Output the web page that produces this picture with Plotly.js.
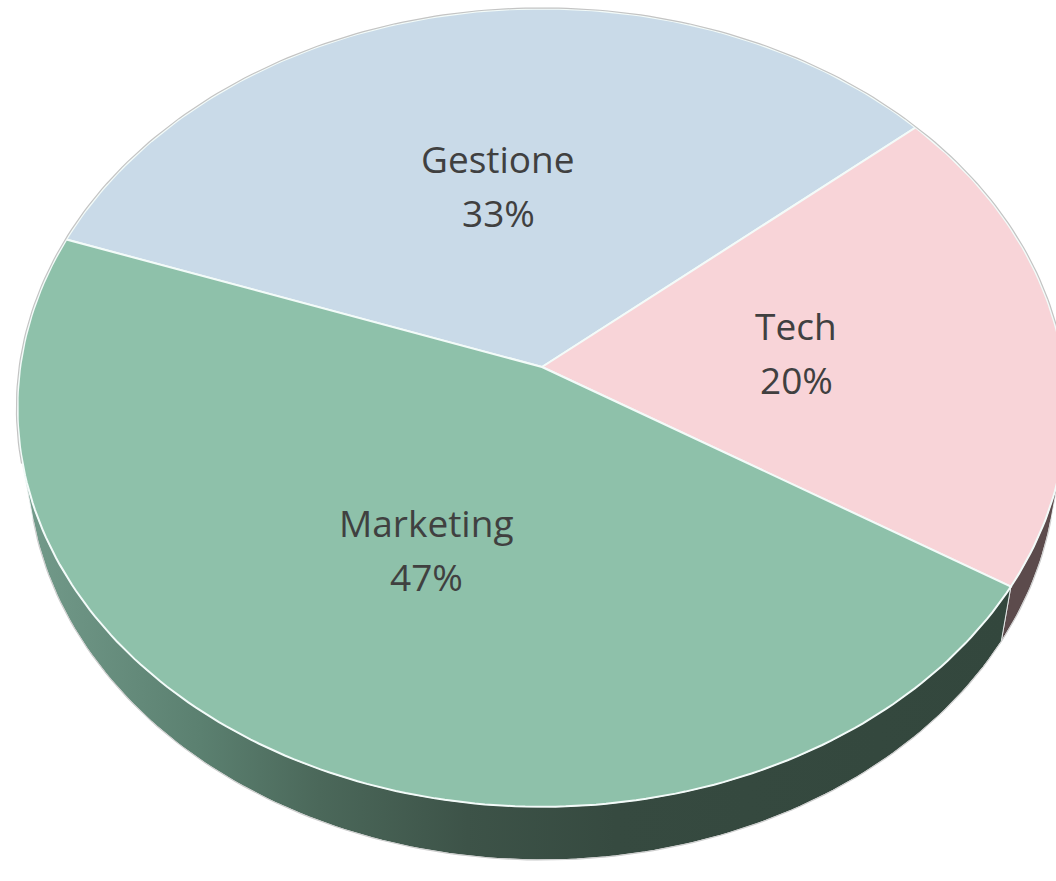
<!DOCTYPE html>
<html>
<head>
<meta charset="utf-8">
<script src="https://cdn.plot.ly/plotly-3.0.1.min.js"></script>
<style>html,body{margin:0;padding:0;background:#fff;}#chart{width:1056px;height:881px;}</style>
</head>
<body>
<div id="chart"></div>
<script>
// ---- data ----
const categories = ['Gestione', 'Tech', 'Marketing'];
const values = [33.4, 20, 46.6];
const topColors = ['#c9dae8', '#f8d4d8', '#8ec1aa'];
const sideColors = ['#6d8597', '#5c4b4c', '#3a4f45'];
const startAngle = 160.5; // degrees, slices run clockwise

// ---- 3D perspective projection of the pie disc ----
const U0 = 542, V0 = 367, F = 3350, D = 6.42;
const ALPHA = 49.2 * Math.PI / 180;
const S = Math.sin(ALPHA), C = Math.cos(ALPHA);
const H = 0.169; // thickness
function proj(thetaDeg, r, z) {
  const t = thetaDeg * Math.PI / 180;
  const X = r * Math.cos(t), Y = r * Math.sin(t);
  const up = Y * S + z * C;
  const depth = D + Y * C - z * S;
  return [U0 + F * X / depth, V0 - F * up / depth];
}
function arc(a1, a2, r, z) {
  const pts = [];
  const steps = Math.max(2, Math.ceil(Math.abs(a2 - a1) / 1.0));
  for (let i = 0; i <= steps; i++) pts.push(proj(a1 + (a2 - a1) * i / steps, r, z));
  return pts;
}
// front-facing wall range
const lim = Math.asin(-1 / (D * C)) * 180 / Math.PI; // ~ -13.8
const frontLo = -180 - lim, frontHi = lim;

const total = values.reduce((a, b) => a + b, 0);
const slices = [];
let a = startAngle;
values.forEach((v, i) => {
  const sweep = v / total * 360;
  slices.push({ i, a1: a, a2: a - sweep, mid: a - sweep / 2 });
  a -= sweep;
});

const traces = [];
// walls
slices.forEach(s => {
  for (const shift of [-360, 0, 360]) {
    const hi = s.a1 + shift, lo = s.a2 + shift;
    const h2 = Math.min(hi, frontHi), l2 = Math.max(lo, frontLo);
    if (h2 > l2) {
      const topPts = arc(h2, l2, 1, 0);
      const botPts = arc(l2, h2, 1, -H);
      const pts = topPts.concat(botPts);
      pts.push(topPts[0]);
      const tr = {
        type: 'scatter', mode: 'lines', fill: 'toself',
        x: pts.map(p => p[0]), y: pts.map(p => p[1]),
        line: { color: 'rgba(235,240,240,0.9)', width: 1 },
        fillcolor: sideColors[s.i], hoverinfo: 'skip', showlegend: false
      };
      if (s.i === 2) {
        tr.fillgradient = {
          type: 'horizontal',
          colorscale: [[0, '#739b8b'], [0.18, '#5b8070'], [0.3, '#4b685a'], [0.45, '#3d5348'], [0.6, '#364a40'], [1, '#33473d']]
        };
      }
      traces.push(tr);
    }
  }
});
// bottom outline (light gray)
{
  const pts = arc(frontLo, frontHi, 1, -H);
  traces.push({ type: 'scatter', mode: 'lines', x: pts.map(p => p[0]), y: pts.map(p => p[1]),
    line: { color: '#cfcfcf', width: 1.2 }, hoverinfo: 'skip', showlegend: false });
}
// top faces
slices.forEach(s => {
  const pts = [proj(0, 0, 0)].concat(arc(s.a1, s.a2, 1, 0));
  pts.push(proj(0, 0, 0));
  traces.push({
    type: 'scatter', mode: 'lines', fill: 'toself',
    x: pts.map(p => p[0]), y: pts.map(p => p[1]),
    line: { color: '#f3fbf9', width: 2 },
    fillcolor: topColors[s.i], hoverinfo: 'skip', showlegend: false
  });
});
// back rim outline (gray)
{
  const pts = arc(frontHi, frontLo + 360, 1.002, 0);
  traces.push({ type: 'scatter', mode: 'lines', x: pts.map(p => p[0]), y: pts.map(p => p[1]),
    line: { color: '#c4c4c4', width: 1.2 }, hoverinfo: 'skip', showlegend: false });
}

// labels
const annotations = [];
const labelFont = { family: 'Open Sans, sans-serif', size: 37, color: '#404040' };
slices.forEach(s => {
  const p = proj(s.mid, 0.49, 0);
  const pct = Math.round(values[s.i] / total * 100) + '%';
  annotations.push({ x: p[0], y: p[1] - 27, text: categories[s.i], showarrow: false,
    xanchor: 'center', yanchor: 'middle', font: labelFont });
  annotations.push({ x: p[0], y: p[1] + 27, text: pct, showarrow: false,
    xanchor: 'center', yanchor: 'middle', font: labelFont });
});

const layout = {
  width: 1056, height: 881,
  margin: { l: 0, r: 0, t: 0, b: 0, pad: 0 },
  paper_bgcolor: '#ffffff', plot_bgcolor: '#ffffff',
  xaxis: { range: [0, 1056], visible: false, fixedrange: true },
  yaxis: { range: [881, 0], visible: false, fixedrange: true },
  showlegend: false,
  annotations: annotations
};
Plotly.newPlot('chart', traces, layout, { staticPlot: true, displayModeBar: false });
</script>
</body>
</html>
